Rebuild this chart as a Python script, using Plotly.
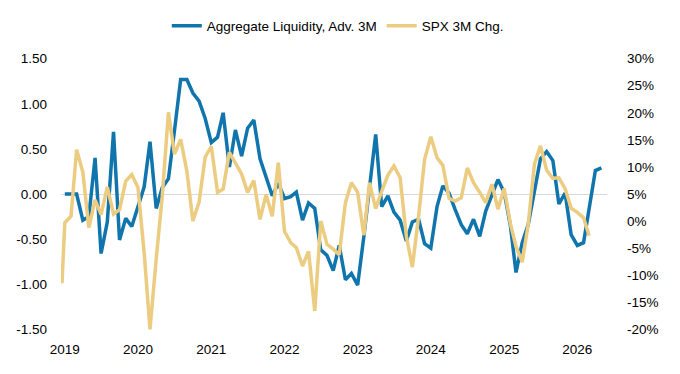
import plotly.graph_objects as go
import pandas as pd

# Monthly dates Jan 2019 - May 2026
months = pd.date_range("2019-01-01", "2026-05-01", freq="MS").strftime("%Y-%m-%d").tolist()

liquidity = [
    0.00, 0.00, 0.00, -0.29, -0.25, 0.40, -0.66, -0.31, 0.69, -0.51, -0.27, -0.36,
    -0.14, 0.08, 0.58, -0.16, 0.07, 0.17, 0.70, 1.27, 1.27, 1.12, 1.03, 0.84,
    0.57, 0.63, 0.90, 0.30, 0.71, 0.42, 0.73, 0.82, 0.39, 0.20, -0.02, 0.12,
    -0.05, -0.03, 0.02, -0.29, -0.10, -0.16, -0.62, -0.68, -0.85, -0.57, -0.95, -0.88,
    -1.01, -0.47, 0.08, 0.66, -0.14, -0.02, -0.20, -0.29, -0.52, -0.31, -0.28, -0.55,
    -0.60, -0.14, 0.09, 0.01, -0.17, -0.34, -0.44, -0.28, -0.47, -0.19, -0.01, 0.16,
    0.02, -0.35, -0.87, -0.54, -0.34, 0.05, 0.39, 0.47, 0.37, -0.11, 0.01, -0.45,
    -0.57, -0.54, -0.14, 0.26, 0.29,
]

spx_dates = ["2018-12-18"] + months[:87]
spx_3m = [
    -11.5,
    -0.3, 0.9, 13.2, 9.0, -1.2, 3.9, 1.2, 6.3, 1.3, 2.1, 7.4, 8.6,
    6.2, -5.9, -20.0, -7.0, 4.5, 20.1, 12.4, 15.1, 9.2, 0.0, 3.5, 11.8,
    13.8, 5.3, 5.9, 12.7, 10.6, 8.7, 5.3, 7.5, 0.3, 4.9, 0.9, 10.8,
    -1.9, -4.0, -4.9, -8.3, -5.6, -16.6, 0.0, -4.3, -5.2, -6.2, 3.4, 7.1,
    5.3, -2.6, 7.1, 2.3, 5.5, 8.5, 10.2, 8.0, -2.8, -8.5, 0.9, 11.4,
    15.6, 11.7, 10.3, 4.2, 3.7, 4.3, 9.8, 7.1, 5.3, 3.4, 6.8, 2.2,
    6.0, -0.5, -4.7, -7.6, -0.6, 10.5, 13.9, 9.4, 7.9, 8.0, 6.0, 2.4,
    1.6, 0.6, -2.7,
]

year_ticks = [f"{y}-01-01" for y in range(2019, 2027)]
year_labels = [str(y) for y in range(2019, 2027)]
left_ticks = [1.5, 1.0, 0.5, 0.0, -0.5, -1.0, -1.5]
right_ticks = [30, 25, 20, 15, 10, 5, 0, -5, -10, -15, -20]

BLUE = "#1175AD"
GOLD = "#EBCC80"
FONT = "Liberation Sans, Arial, sans-serif"

fig = go.Figure()
fig.add_trace(go.Scatter(
    x=months, y=liquidity, name="Aggregate Liquidity, Adv. 3M",
    mode="lines", line=dict(color=BLUE, width=3.5), yaxis="y",
))
fig.add_trace(go.Scatter(
    x=spx_dates, y=spx_3m, name="SPX 3M Chg.",
    mode="lines", line=dict(color=GOLD, width=3.5), yaxis="y2",
))

fig.update_layout(
    width=680, height=374,
    margin=dict(l=53, r=81, t=48, b=50, autoexpand=False),
    paper_bgcolor="white", plot_bgcolor="white",
    font=dict(family=FONT, size=13.5, color="#000000"),
    showlegend=True,
    legend=dict(
        orientation="h", xref="container", yref="container",
        x=0.485, xanchor="center", y=(374 - 18) / 374, yanchor="middle",
        font=dict(family=FONT, size=13.5, color="#000000"),
        bgcolor="rgba(0,0,0,0)", itemwidth=30,
    ),
    xaxis=dict(
        type="date", range=["2018-12-13", "2026-05-29"],
        tickvals=year_ticks, ticktext=year_labels,
        showgrid=False, zeroline=False, showline=False, ticks="",
        ticklabelstandoff=7, automargin=False,
    ),
    yaxis=dict(
        range=[-1.53, 1.53], tickvals=left_ticks,
        ticktext=[f"{v:.2f}" for v in left_ticks],
        showgrid=False, zeroline=True, zerolinecolor="#D9D9D9", zerolinewidth=1,
        showline=False, ticks="", ticklabelstandoff=13, automargin=False,
    ),
    yaxis2=dict(
        range=[-20.5, 30.5], overlaying="y", side="right",
        tickvals=right_ticks, ticktext=[f"{v}%" for v in right_ticks],
        showgrid=False, zeroline=False, showline=False, ticks="",
        ticklabelstandoff=19, automargin=False,
    ),
)

fig.write_html("out.html")
